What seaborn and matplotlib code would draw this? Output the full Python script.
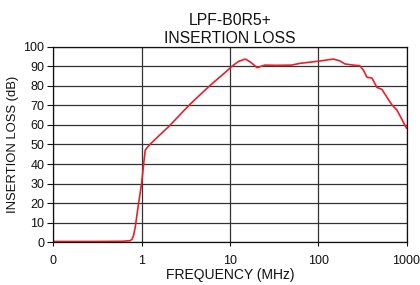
import matplotlib
matplotlib.use("Agg")
import matplotlib.pyplot as plt
import seaborn as sns
import pandas as pd
from matplotlib.ticker import FixedLocator, NullLocator

freq_mhz = [0.1, 0.3, 0.6, 0.74, 0.778, 0.81, 0.848, 0.924, 1.0, 1.065, 1.1, 1.22,
            1.5, 2.06, 3.48, 5.88, 8.7, 10.4, 12.5, 14.96, 17.0, 20.3, 24.8,
            33.6, 49.7, 62.0, 104.0, 148.0, 175.0, 201.0, 250.0, 296.0, 325.0,
            356.0, 406.0, 461.0, 526.0, 595.0, 684.0, 779.0, 1000.0]
loss_db = [0.4, 0.4, 0.5, 0.8, 1.5, 3.5, 8.0, 20.0, 30.2, 42.0, 47.2, 49.7,
           53.6, 59.5, 70.3, 80.0, 86.6, 89.8, 92.5, 93.7, 92.2, 89.3, 90.6,
           90.5, 90.6, 91.5, 92.7, 93.7, 92.8, 91.2, 90.6, 90.3, 88.0,
           84.4, 84.0, 79.2, 78.2, 74.4, 70.2, 67.6, 58.3]

x_ticks = [0.1, 1, 10, 100, 1000]
x_tick_labels = ["0", "1", "10", "100", "1000"]
y_ticks = list(range(0, 101, 10))

df = pd.DataFrame({"freq": freq_mhz, "loss": loss_db})

sns.set_theme(style="white")
plt.rcParams["font.family"] = ["Liberation Sans", "DejaVu Sans"]

fig = plt.figure(figsize=(4.2, 2.85), dpi=100)
ax = fig.add_axes([0.127, 0.15, 0.841, 0.686])

sns.lineplot(data=df, x="freq", y="loss", ax=ax, color="#e8202a", linewidth=1.2,
             sort=False, estimator=None)

ax.set_xscale("log")
ax.set_xlim(0.1, 1000)
ax.set_ylim(0, 100)
ax.xaxis.set_major_locator(FixedLocator(x_ticks))
ax.xaxis.set_minor_locator(NullLocator())
ax.set_xticklabels(x_tick_labels)
ax.set_yticks(y_ticks)

ax.grid(True, which="major", color="#333333", linewidth=0.9)
for s in ax.spines.values():
    s.set_visible(True)
    s.set_color("#111111")
    s.set_linewidth(0.9)

ax.tick_params(axis="both", which="major", labelsize=9, width=0.8,
               direction="out", color="#111111", labelcolor="#111111",
               bottom=True, left=True)
ax.tick_params(axis="x", length=3, pad=6)
ax.tick_params(axis="y", length=4, pad=2.5)
ax.set_xlabel("FREQUENCY (MHz)", fontsize=10, labelpad=1.2, color="#111111")
ax.set_ylabel("INSERTION LOSS (dB)", fontsize=9.4, labelpad=3.2, color="#111111")
ax.set_title("LPF-B0R5+\nINSERTION LOSS", fontsize=11.3, linespacing=1.3,
             pad=2.5, color="#111111")

fig.savefig("out.png", dpi=100)
